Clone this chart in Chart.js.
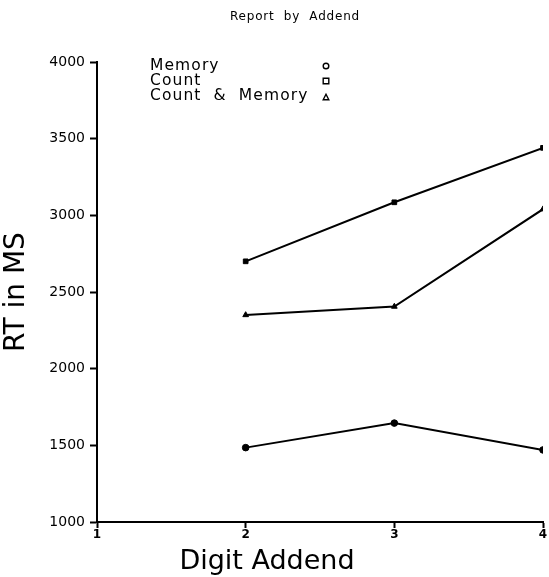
<!DOCTYPE html>
<html>
<head>
<meta charset="utf-8">
<script src="https://cdn.jsdelivr.net/npm/chart.js@4"></script>
<style>
  html, body { margin: 0; padding: 0; background: #fff; }
  #wrap { width: 549px; height: 577px; }
</style>
</head>
<body>
<div id="wrap"><canvas id="chart" width="549" height="577"></canvas></div>
<script>
// values
const addends = [2, 3, 4];
const memoryRT = [1485, 1645, 1470];
const countRT = [2700, 3085, 3440];
const countMemoryRT = [2350, 2405, 3040];
const xTicks = [1, 2, 3, 4];
const yTicks = [1000, 1500, 2000, 2500, 3000, 3500, 4000];

const seriesNames = ['Memory', 'Count', 'Count & Memory'];
const seriesMarks = ['circle', 'rect', 'triangle'];
const seriesData = [memoryRT, countRT, countMemoryRT];

const FONT = '"DejaVu Sans", sans-serif';

// legend text on the left, open marker on the right, plus title and x title
const extras = {
  id: 'extras',
  afterDraw(chart) {
    const ctx = chart.ctx;
    ctx.save();
    ctx.fillStyle = '#000';
    ctx.strokeStyle = '#000';

    ctx.font = '12px ' + FONT;
    ctx.letterSpacing = '0.8px';
    ctx.textAlign = 'center';
    ctx.textBaseline = 'middle';
    ctx.fillText('Report  by  Addend', 295, 17);

    ctx.letterSpacing = '0px';
    ctx.font = '27px ' + FONT;
    ctx.fillText('Digit Addend', 267, 562);

    ctx.font = '15.5px ' + FONT;
    ctx.letterSpacing = '1.1px';
    ctx.textAlign = 'left';
    ctx.lineWidth = 1.4;
    chart.data.datasets.forEach((ds, i) => {
      const y = 66 + i * 15;
      ctx.fillText(ds.label.replace(' & ', '  &  '), 150, y);
      const x = 326, r = 2.8;
      ctx.beginPath();
      if (ds.pointStyle === 'circle') {
        ctx.arc(x, y, r, 0, Math.PI * 2);
      } else if (ds.pointStyle === 'rect') {
        ctx.rect(x - r, y - r, r * 2, r * 2);
      } else {
        ctx.moveTo(x, y - r + 1);
        ctx.lineTo(x + r, y + r + 1);
        ctx.lineTo(x - r, y + r + 1);
        ctx.closePath();
      }
      ctx.stroke();
    });
    ctx.restore();
  }
};

new Chart(document.getElementById('chart'), {
  type: 'line',
  data: {
    datasets: seriesNames.map((name, i) => ({
      label: name,
      data: addends.map((a, j) => ({ x: a, y: seriesData[i][j] })),
      borderColor: '#000',
      backgroundColor: '#000',
      borderWidth: 2,
      pointStyle: seriesMarks[i],
      pointRadius: 3.3,
      pointBorderWidth: 1,
      tension: 0
    }))
  },
  plugins: [extras],
  options: {
    responsive: false,
    animation: false,
    layout: { padding: { top: 62, right: 6, left: 0, bottom: 0 } },
    plugins: {
      legend: { display: false },
      title: { display: false },
      tooltip: { enabled: false }
    },
    scales: {
      x: {
        type: 'linear',
        min: 1,
        max: 4,
        afterBuildTicks: s => { s.ticks = xTicks.map(v => ({ value: v })); },
        afterFit: s => { s.height = 55; },
        grid: { display: true, drawOnChartArea: false, drawTicks: true, tickLength: 6, color: '#000', tickColor: '#000', tickWidth: 2 },
        border: { color: '#000', width: 2 },
        ticks: { color: '#000', padding: 0, font: { family: FONT, size: 12, weight: 'bold' }, maxRotation: 0, callback: v => String(v) }
      },
      y: {
        min: 1000,
        max: 4000,
        afterBuildTicks: s => { s.ticks = yTicks.map(v => ({ value: v })); },
        afterFit: s => { s.width = 97; },
        grid: { display: true, drawOnChartArea: false, drawTicks: true, tickLength: 7, color: '#000', tickColor: '#000', tickWidth: 2 },
        border: { color: '#000', width: 2 },
        ticks: { color: '#000', padding: 5, font: { family: FONT, size: 14 }, callback: v => String(v) },
        title: { display: true, text: 'RT in MS', color: '#000', padding: { top: 0, bottom: 2 }, font: { family: FONT, size: 28 } }
      }
    }
  }
});
</script>
</body>
</html>
